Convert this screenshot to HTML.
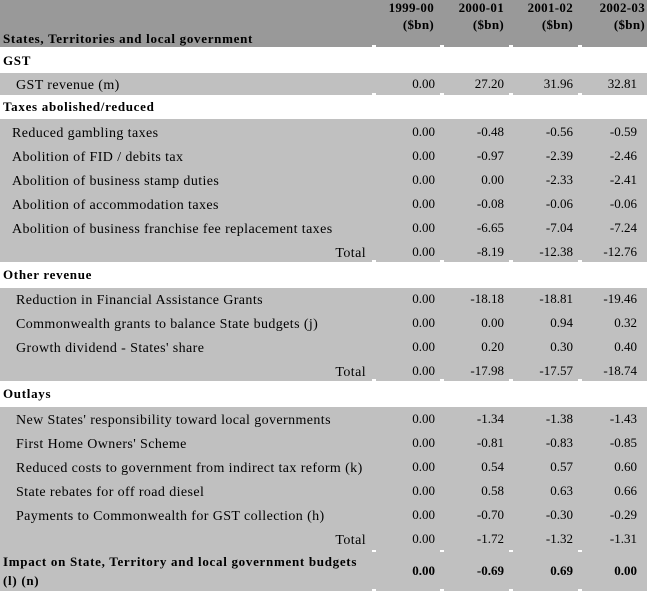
<!DOCTYPE html>
<html>
<head>
<meta charset="utf-8">
<style>
html,body{margin:0;padding:0}
body{width:647px;height:591px;position:relative;background:#fff;overflow:hidden;font-family:"Liberation Serif","Times New Roman",serif;color:#000}
.bd{position:absolute;left:0;width:647px}
.hd{background:#999999}
.g{background:#c0c0c0}
.t{position:absolute;height:24px;line-height:24px;white-space:nowrap}
.l{font-size:14px;letter-spacing:0.4px;margin-top:2px}
.h{font-size:13px;font-weight:bold;letter-spacing:0.7px}
.y{font-size:13px;font-weight:bold;letter-spacing:0.3px}
.n{font-size:13px}
.nb{font-size:13px;font-weight:bold}
.tk{position:absolute;width:4px;height:2px;background:#fff}
</style>
</head>
<body>
<!-- bands -->
<div class="bd hd" style="top:0;height:47px"></div>
<div class="bd g" style="top:73px;height:22px"></div>
<div class="bd g" style="top:119px;height:143px"></div>
<div class="bd g" style="top:288px;height:93px"></div>
<div class="bd g" style="top:407px;height:184px"></div>

<!-- ticks -->
<div class="tk" style="left:372px;top:45px"></div><div class="tk" style="left:440px;top:45px"></div><div class="tk" style="left:509px;top:45px"></div><div class="tk" style="left:578px;top:45px"></div>
<div class="tk" style="left:372px;top:93px"></div><div class="tk" style="left:440px;top:93px"></div><div class="tk" style="left:509px;top:93px"></div><div class="tk" style="left:578px;top:93px"></div>
<div class="tk" style="left:372px;top:260px"></div><div class="tk" style="left:440px;top:260px"></div><div class="tk" style="left:509px;top:260px"></div><div class="tk" style="left:578px;top:260px"></div>
<div class="tk" style="left:372px;top:379px"></div><div class="tk" style="left:440px;top:379px"></div><div class="tk" style="left:509px;top:379px"></div><div class="tk" style="left:578px;top:379px"></div>
<div class="tk" style="left:372px;top:550px"></div><div class="tk" style="left:440px;top:550px"></div><div class="tk" style="left:509px;top:550px"></div><div class="tk" style="left:578px;top:550px"></div>
<div class="tk" style="left:372px;top:589px"></div><div class="tk" style="left:440px;top:589px"></div><div class="tk" style="left:509px;top:589px"></div><div class="tk" style="left:578px;top:589px"></div>

<!-- header -->
<div class="t y" style="top:-4px;right:213px">1999-00</div>
<div class="t y" style="top:-4px;right:143px">2000-01</div>
<div class="t y" style="top:-4px;right:74px">2001-02</div>
<div class="t y" style="top:-4px;right:2px">2002-03</div>
<div class="t y" style="top:13px;right:213px">($bn)</div>
<div class="t y" style="top:13px;right:143px">($bn)</div>
<div class="t y" style="top:13px;right:74px">($bn)</div>
<div class="t y" style="top:13px;right:2px">($bn)</div>
<div class="t h" style="top:27px;left:3px">States, Territories and local government</div>

<!-- GST -->
<div class="t h" style="top:49px;left:3px">GST</div>
<div class="t l" style="top:72px;left:16px">GST revenue (m)</div>
<div class="t n" style="top:72px;right:212px">0.00</div><div class="t n" style="top:72px;right:143px">27.20</div><div class="t n" style="top:72px;right:74px">31.96</div><div class="t n" style="top:72px;right:10px">32.81</div>

<!-- Taxes -->
<div class="t h" style="top:95px;left:3px">Taxes abolished/reduced</div>

<div class="t l" style="top:120px;left:12px">Reduced gambling taxes</div>
<div class="t n" style="top:120px;right:212px">0.00</div><div class="t n" style="top:120px;right:143px">-0.48</div><div class="t n" style="top:120px;right:74px">-0.56</div><div class="t n" style="top:120px;right:10px">-0.59</div>

<div class="t l" style="top:144px;left:12px">Abolition of FID / debits tax</div>
<div class="t n" style="top:144px;right:212px">0.00</div><div class="t n" style="top:144px;right:143px">-0.97</div><div class="t n" style="top:144px;right:74px">-2.39</div><div class="t n" style="top:144px;right:10px">-2.46</div>

<div class="t l" style="top:168px;left:12px">Abolition of business stamp duties</div>
<div class="t n" style="top:168px;right:212px">0.00</div><div class="t n" style="top:168px;right:143px">0.00</div><div class="t n" style="top:168px;right:74px">-2.33</div><div class="t n" style="top:168px;right:10px">-2.41</div>

<div class="t l" style="top:192px;left:12px">Abolition of accommodation taxes</div>
<div class="t n" style="top:192px;right:212px">0.00</div><div class="t n" style="top:192px;right:143px">-0.08</div><div class="t n" style="top:192px;right:74px">-0.06</div><div class="t n" style="top:192px;right:10px">-0.06</div>

<div class="t l" style="top:216px;left:12px">Abolition of business franchise fee replacement taxes</div>
<div class="t n" style="top:216px;right:212px">0.00</div><div class="t n" style="top:216px;right:143px">-6.65</div><div class="t n" style="top:216px;right:74px">-7.04</div><div class="t n" style="top:216px;right:10px">-7.24</div>

<div class="t l" style="top:240px;right:281px">Total</div>
<div class="t n" style="top:240px;right:212px">0.00</div><div class="t n" style="top:240px;right:143px">-8.19</div><div class="t n" style="top:240px;right:74px">-12.38</div><div class="t n" style="top:240px;right:10px">-12.76</div>

<!-- Other revenue -->
<div class="t h" style="top:263px;left:3px">Other revenue</div>

<div class="t l" style="top:287px;left:16px">Reduction in Financial Assistance Grants</div>
<div class="t n" style="top:287px;right:212px">0.00</div><div class="t n" style="top:287px;right:143px">-18.18</div><div class="t n" style="top:287px;right:74px">-18.81</div><div class="t n" style="top:287px;right:10px">-19.46</div>

<div class="t l" style="top:311px;left:16px">Commonwealth grants to balance State budgets (j)</div>
<div class="t n" style="top:311px;right:212px">0.00</div><div class="t n" style="top:311px;right:143px">0.00</div><div class="t n" style="top:311px;right:74px">0.94</div><div class="t n" style="top:311px;right:10px">0.32</div>

<div class="t l" style="top:335px;left:16px">Growth dividend - States' share</div>
<div class="t n" style="top:335px;right:212px">0.00</div><div class="t n" style="top:335px;right:143px">0.20</div><div class="t n" style="top:335px;right:74px">0.30</div><div class="t n" style="top:335px;right:10px">0.40</div>

<div class="t l" style="top:359px;right:281px">Total</div>
<div class="t n" style="top:359px;right:212px">0.00</div><div class="t n" style="top:359px;right:143px">-17.98</div><div class="t n" style="top:359px;right:74px">-17.57</div><div class="t n" style="top:359px;right:10px">-18.74</div>

<!-- Outlays -->
<div class="t h" style="top:382px;left:3px">Outlays</div>

<div class="t l" style="top:407px;left:16px">New States' responsibility toward local governments</div>
<div class="t n" style="top:407px;right:212px">0.00</div><div class="t n" style="top:407px;right:143px">-1.34</div><div class="t n" style="top:407px;right:74px">-1.38</div><div class="t n" style="top:407px;right:10px">-1.43</div>

<div class="t l" style="top:431px;left:16px">First Home Owners' Scheme</div>
<div class="t n" style="top:431px;right:212px">0.00</div><div class="t n" style="top:431px;right:143px">-0.81</div><div class="t n" style="top:431px;right:74px">-0.83</div><div class="t n" style="top:431px;right:10px">-0.85</div>

<div class="t l" style="top:455px;left:16px">Reduced costs to government from indirect tax reform (k)</div>
<div class="t n" style="top:455px;right:212px">0.00</div><div class="t n" style="top:455px;right:143px">0.54</div><div class="t n" style="top:455px;right:74px">0.57</div><div class="t n" style="top:455px;right:10px">0.60</div>

<div class="t l" style="top:479px;left:16px">State rebates for off road diesel</div>
<div class="t n" style="top:479px;right:212px">0.00</div><div class="t n" style="top:479px;right:143px">0.58</div><div class="t n" style="top:479px;right:74px">0.63</div><div class="t n" style="top:479px;right:10px">0.66</div>

<div class="t l" style="top:503px;left:16px">Payments to Commonwealth for GST collection (h)</div>
<div class="t n" style="top:503px;right:212px">0.00</div><div class="t n" style="top:503px;right:143px">-0.70</div><div class="t n" style="top:503px;right:74px">-0.30</div><div class="t n" style="top:503px;right:10px">-0.29</div>

<div class="t l" style="top:527px;right:281px">Total</div>
<div class="t n" style="top:527px;right:212px">0.00</div><div class="t n" style="top:527px;right:143px">-1.72</div><div class="t n" style="top:527px;right:74px">-1.32</div><div class="t n" style="top:527px;right:10px">-1.31</div>

<!-- Impact -->
<div class="t h" style="top:550px;left:3px">Impact on State, Territory and local government budgets</div>
<div class="t h" style="top:569px;left:3px">(l) (n)</div>
<div class="t nb" style="top:559px;right:212px">0.00</div><div class="t nb" style="top:559px;right:143px">-0.69</div><div class="t nb" style="top:559px;right:74px">0.69</div><div class="t nb" style="top:559px;right:10px">0.00</div>
</body>
</html>
